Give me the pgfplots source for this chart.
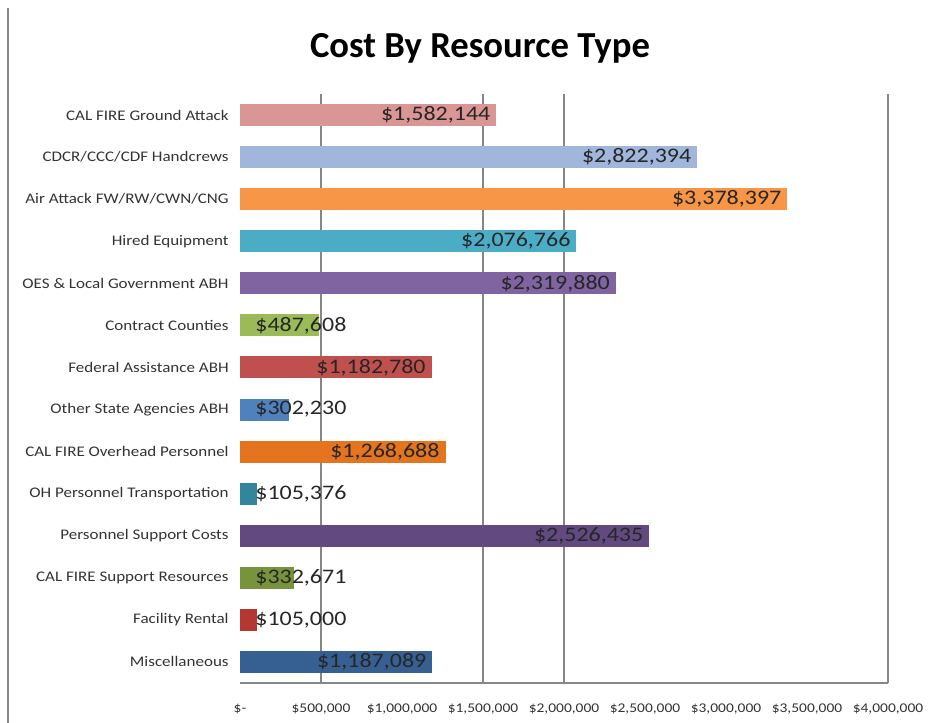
\documentclass[border=0pt]{standalone}
\usepackage{fontspec}
\setmainfont{Carlito}
\newfontfamily\wide{Carlito}[FakeStretch=1.16]
\usepackage{pgfplots}
\pgfplotsset{compat=1.18}
\definecolor{cGround}{RGB}{217,150,148}
\definecolor{cCDCR}{RGB}{160,182,218}
\definecolor{cAir}{RGB}{247,150,70}
\definecolor{cHired}{RGB}{75,172,198}
\definecolor{cOES}{RGB}{128,100,162}
\definecolor{cContract}{RGB}{155,187,89}
\definecolor{cFederal}{RGB}{192,80,77}
\definecolor{cOther}{RGB}{79,129,189}
\definecolor{cOverhead}{RGB}{228,116,30}
\definecolor{cOH}{RGB}{49,133,156}
\definecolor{cPSC}{RGB}{98,74,128}
\definecolor{cSupport}{RGB}{119,147,60}
\definecolor{cFacility}{RGB}{180,55,50}
\definecolor{cMisc}{RGB}{55,96,146}
\definecolor{axgray}{RGB}{134,134,134}
\newcommand{\dlfont}{\wide\fontsize{15.5}{17}\selectfont}
\pgfplotsset{
  big/.style={draw=none, bar shift=0pt, nodes near coords, point meta=explicit symbolic,
    every node near coord/.style={anchor=east, xshift=-1pt, font=\dlfont, text=black!85}},
  bar/.style={draw=none, bar shift=0pt},
  small/.style={draw=none, fill=none, bar shift=0pt, nodes near coords, point meta=explicit symbolic,
    every node near coord/.style={anchor=west, xshift=8pt, font=\dlfont, text=black!85}},
}
\begin{document}
\begin{tikzpicture}
\useasboundingbox (-180pt,-30pt) rectangle (522pt,512.25pt);
\draw[axgray, line width=2.2pt] (-174pt,-30pt) -- (-174pt,506pt);
\begin{axis}[
  scale only axis, width=486pt, height=441.75pt,
  xmin=0, xmax=4000000, ymin=-0.5, ymax=13.5,
  xbar, bar width=16.5pt,
  axis lines*=left,
  y axis line style={draw=none},
  x axis line style={draw=axgray, line width=0.8pt, -},
  major tick length=0pt,
  scaled x ticks=false,
  xtick={0,500000,1000000,1500000,2000000,2500000,3000000,3500000,4000000},
  xticklabels={{\$-},{\$500,000},{\$1,000,000},{\$1,500,000},{\$2,000,000},{\$2,500,000},{\$3,000,000},{\$3,500,000},{\$4,000,000}},
  xticklabel style={font=\wide\fontsize{10}{12}\selectfont, text=black!80, yshift=-12pt},
  ytick={0,1,2,3,4,5,6,7,8,9,10,11,12,13},
  yticklabels={Miscellaneous, Facility Rental, CAL FIRE Support Resources, Personnel Support Costs, OH Personnel Transportation, CAL FIRE Overhead Personnel, Other State Agencies ABH, Federal Assistance ABH, Contract Counties, OES \& Local Government ABH, Hired Equipment, Air Attack FW/RW/CWN/CNG, CDCR/CCC/CDF Handcrews, CAL FIRE Ground Attack},
  yticklabel style={font=\wide\fontsize{11}{13}\selectfont, text=black!80, xshift=-5pt},
  extra x ticks={500000,1500000,2000000,4000000},
  extra x tick labels={},
  extra x tick style={grid=major, major grid style={draw=axgray, line width=0.8pt}},
  clip=false,
]
\addplot[big, fill=cGround] coordinates {(1582144,13) [\$1,582,144]};
\addplot[big, fill=cCDCR] coordinates {(2822394,12) [\$2,822,394]};
\addplot[big, fill=cAir] coordinates {(3378397,11) [\$3,378,397]};
\addplot[big, fill=cHired] coordinates {(2076766,10) [\$2,076,766]};
\addplot[big, fill=cOES] coordinates {(2319880,9) [\$2,319,880]};
\addplot[bar, fill=cContract] coordinates {(487608,8)};
\addplot[small] coordinates {(0,8) [\$487,608]};
\addplot[big, fill=cFederal] coordinates {(1182780,7) [\$1,182,780]};
\addplot[bar, fill=cOther] coordinates {(302230,6)};
\addplot[small] coordinates {(0,6) [\$302,230]};
\addplot[big, fill=cOverhead] coordinates {(1268688,5) [\$1,268,688]};
\addplot[bar, fill=cOH] coordinates {(105376,4)};
\addplot[small] coordinates {(0,4) [\$105,376]};
\addplot[big, fill=cPSC] coordinates {(2526435,3) [\$2,526,435]};
\addplot[bar, fill=cSupport] coordinates {(332671,2)};
\addplot[small] coordinates {(0,2) [\$332,671]};
\addplot[bar, fill=cFacility] coordinates {(105000,1)};
\addplot[small] coordinates {(0,1) [\$105,000]};
\addplot[big, fill=cMisc] coordinates {(1187089,0) [\$1,187,089]};
\end{axis}
\node[font=\bfseries\fontsize{27.5}{30}\selectfont] at (180pt,476pt) {Cost By Resource Type};
\end{tikzpicture}
\end{document}
